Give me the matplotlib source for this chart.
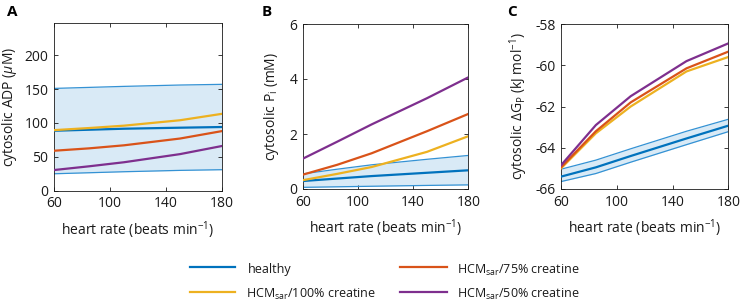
import matplotlib
matplotlib.use("Agg")
import matplotlib.pyplot as plt
from matplotlib.lines import Line2D

plt.rcParams['font.family'] = ['Open Sans', 'DejaVu Sans']
plt.rcParams['mathtext.fontset'] = 'custom'
plt.rcParams['mathtext.rm'] = 'Open Sans'
plt.rcParams['mathtext.it'] = 'Open Sans:italic'
plt.rcParams['mathtext.bf'] = 'Open Sans:bold'
plt.rcParams['axes.unicode_minus'] = False

# ---------------- data ----------------
hr = [60, 85, 110, 150, 180]

# Panel A: cytosolic ADP (uM)
adp_healthy = [88.5, 90, 91.5, 93, 94]
adp_healthy_hi = [151, 152.5, 154, 156, 157]
adp_healthy_lo = [25, 26.5, 28, 30, 31]
adp_100 = [89.4, 92.5, 96, 104, 113.5]
adp_75 = [59, 62.5, 67, 77, 88]
adp_50 = [30.5, 36, 42, 54, 66]

# Panel B: cytosolic Pi (mM)
pi_healthy = [0.29, 0.38, 0.47, 0.59, 0.68]
pi_healthy_hi = [0.55, 0.72, 0.88, 1.08, 1.22]
pi_healthy_lo = [0.06, 0.08, 0.10, 0.13, 0.15]
pi_100 = [0.32, 0.55, 0.80, 1.35, 1.92]
pi_75 = [0.52, 0.88, 1.30, 2.10, 2.73]
pi_50 = [1.10, 1.72, 2.35, 3.30, 4.06]

# Panel C: cytosolic dG_p (kJ/mol)
dg_healthy = [-65.4, -64.95, -64.4, -63.55, -62.93]
dg_healthy_hi = [-65.04, -64.6, -64.05, -63.2, -62.62]
dg_healthy_lo = [-65.64, -65.25, -64.7, -63.85, -63.22]
dg_100 = [-65.0, -63.3, -62.0, -60.3, -59.6]
dg_75 = [-64.95, -63.2, -61.8, -60.15, -59.34]
dg_50 = [-64.85, -62.9, -61.5, -59.8, -58.94]

xticks = [60, 100, 140, 180]
labels = ['healthy', 'HCM$_\\mathregular{sar}$/100% creatine',
          'HCM$_\\mathregular{sar}$/75% creatine', 'HCM$_\\mathregular{sar}$/50% creatine']

# ---------------- style ----------------
C_H = '#0072BD'
C_BAND = '#3492d4'
C_FILL = '#d9eaf6'
C_100 = '#EDB120'
C_75 = '#D95319'
C_50 = '#7E2F8E'
TXT = '#1a1a1a'

W, H = 743, 303
fig = plt.figure(figsize=(W / 100, H / 100), dpi=100)


def px_axes(l, r, t, b):
    return fig.add_axes([l / W, (H - b) / H, (r - l) / W, (b - t) / H])


def draw(ax, mean, hi, lo, s100, s75, s50):
    ax.fill_between(hr, lo, hi, color=C_FILL, lw=0, zorder=1)
    ax.plot(hr, hi, color=C_BAND, lw=0.9, zorder=2)
    ax.plot(hr, lo, color=C_BAND, lw=0.9, zorder=2)
    ax.plot(hr, mean, color=C_H, lw=1.6, zorder=3)
    ax.plot(hr, s100, color=C_100, lw=1.6, zorder=3)
    ax.plot(hr, s75, color=C_75, lw=1.6, zorder=3)
    ax.plot(hr, s50, color=C_50, lw=1.6, zorder=3)
    ax.set_xlim(60, 180)
    ax.set_xticks(xticks)
    ax.tick_params(direction='in', length=3, width=0.6, top=True, right=True,
                   labelsize=10, colors=TXT, pad=4)
    for sp in ax.spines.values():
        sp.set_color(TXT)
        sp.set_linewidth(0.6)
    ax.set_xlabel('heart rate (beats min$^{-1}$)', fontsize=10, color=TXT, labelpad=6)


axA = px_axes(54, 222, 22.7, 190.7)
draw(axA, adp_healthy, adp_healthy_hi, adp_healthy_lo, adp_100, adp_75, adp_50)
axA.set_ylim(0, 248)
axA.set_yticks([0, 50, 100, 150, 200])
axA.set_ylabel('cytosolic ADP ($\\mathit{\\mu}$M)', fontsize=10, color=TXT, labelpad=4)

axB = px_axes(302.7, 468.3, 24, 189)
draw(axB, pi_healthy, pi_healthy_hi, pi_healthy_lo, pi_100, pi_75, pi_50)
axB.set_ylim(0, 6)
axB.set_yticks([0, 2, 4, 6])
axB.set_ylabel('cytosolic P$_\\mathregular{i}$ (mM)', fontsize=10, color=TXT, labelpad=6)

axC = px_axes(561, 728.3, 24, 189)
draw(axC, dg_healthy, dg_healthy_hi, dg_healthy_lo, dg_100, dg_75, dg_50)
axC.set_ylim(-66, -58)
axC.set_yticks([-66, -64, -62, -60, -58])
axC.set_ylabel('cytosolic $\\Delta$G$_\\mathregular{P}$ (kJ mol$^{-1}$)', fontsize=10,
               color=TXT, labelpad=4)

for letter, x in [('A', 7), ('B', 262), ('C', 507)]:
    fig.text(x / W, 1 - 12 / H, letter, fontsize=11, fontweight='bold', va='center',
             ha='left', color='black')

# ---------------- legend (manual, two columns) ----------------
legend_colors = [C_H, C_100, C_75, C_50]
legend_slots = [(190, 235, 248, 267), (190, 235, 246.5, 291.5),
                (400, 447, 457, 267), (400, 447, 457, 291.5)]
for (x0, x1, xt, y), col, lab in zip(legend_slots, legend_colors, labels):
    fig.add_artist(Line2D([x0 / W, x1 / W], [1 - y / H, 1 - y / H], color=col, lw=1.6,
                          transform=fig.transFigure))
    fig.text(xt / W, 1 - (y + 1) / H, lab, fontsize=9, color=TXT, va='center_baseline',
             ha='left')

fig.savefig('out.png', dpi=100)
